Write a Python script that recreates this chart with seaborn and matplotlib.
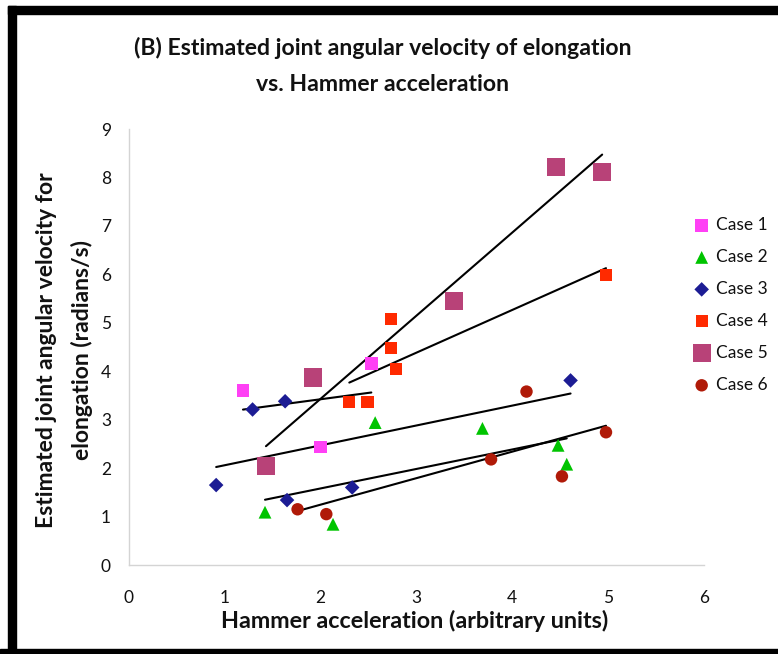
import matplotlib
matplotlib.use("Agg")
import matplotlib.pyplot as plt
import seaborn as sns
import pandas as pd
from matplotlib.patches import Rectangle

# ---- data ----
case1_x = [1.19, 2.00, 2.53]
case1_y = [3.60, 2.43, 4.16]
case2_x = [1.42, 2.13, 2.57, 3.69, 4.48, 4.57]
case2_y = [1.09, 0.84, 2.94, 2.82, 2.47, 2.08]
case3_x = [0.91, 1.29, 1.63, 1.65, 2.33, 4.61]
case3_y = [1.65, 3.21, 3.38, 1.34, 1.60, 3.81]
case4_x = [2.30, 2.49, 2.74, 2.74, 2.79, 4.98]
case4_y = [3.37, 3.37, 5.08, 4.47, 4.05, 5.99]
case5_x = [1.43, 1.92, 3.39, 4.46, 4.94]
case5_y = [2.04, 3.87, 5.45, 8.21, 8.11]
case6_x = [1.76, 2.06, 3.78, 4.15, 4.52, 4.98]
case6_y = [1.15, 1.05, 2.18, 3.58, 1.83, 2.74]

case_names = ["Case 1", "Case 2", "Case 3", "Case 4", "Case 5", "Case 6"]
xs = [case1_x, case2_x, case3_x, case4_x, case5_x, case6_x]
ys = [case1_y, case2_y, case3_y, case4_y, case5_y, case6_y]

x_ticks = [0, 1, 2, 3, 4, 5, 6]
y_ticks = [0, 1, 2, 3, 4, 5, 6, 7, 8, 9]

title = "(B) Estimated joint angular velocity of elongation\nvs. Hammer acceleration"
x_label = "Hammer acceleration (arbitrary units)"
y_label = "Estimated joint angular velocity for\nelongation (radians/s)"

# ---- styles ----
colors = ["#FF40F5", "#00C400", "#1C1C94", "#FF2A00", "#B84278", "#B01A08"]
markers = ["s", "^", "D", "s", "s", "o"]
sizes = [80, 85, 55, 75, 170, 80]

sns.set_theme(style="white")
plt.rcParams["font.family"] = ["Lato", "DejaVu Sans"]

fig = plt.figure(figsize=(7.78, 6.54), dpi=100)
fig.patch.set_facecolor("white")
ax = fig.add_axes([129 / 778, 1 - 565 / 654, (703.7 - 129) / 778, (565 - 129) / 654])
ax.set_facecolor("white")

for i, name in enumerate(case_names):
    df = pd.DataFrame({"x": xs[i], "y": ys[i]})
    sns.regplot(data=df, x="x", y="y", scatter=False, ci=None, truncate=True,
                color="black", line_kws=dict(lw=1.5, color="black", zorder=2), ax=ax)

for i, name in enumerate(case_names):
    df = pd.DataFrame({"x": xs[i], "y": ys[i]})
    sns.scatterplot(data=df, x="x", y="y", marker=markers[i], color=colors[i],
                    s=sizes[i], edgecolor="none", linewidth=0, label=name,
                    zorder=3, ax=ax)

ax.set_xlim(0, 6)
ax.set_ylim(0, 9)
ax.set_xticks(x_ticks)
ax.set_yticks(y_ticks)
ax.set_xticklabels([str(t) for t in x_ticks])
ax.set_yticklabels([str(t) for t in y_ticks])
for s in ["top", "right"]:
    ax.spines[s].set_visible(False)
for s in ["left", "bottom"]:
    ax.spines[s].set_color("#D4D4D4")
    ax.spines[s].set_linewidth(1.0)
ax.tick_params(axis="both", which="major", direction="out", length=5, width=1,
               color="#D4D4D4", labelsize=12.5, labelcolor="#111111")
ax.tick_params(axis="x", pad=13)
ax.tick_params(axis="y", pad=8)

ax.set_xlabel("")
ax.set_ylabel("")
fig.text(415 / 778, 1 - 621 / 654, x_label, ha="center", va="center",
         fontsize=16.8, fontweight="bold", color="#111111")
fig.text(64.5 / 778, 1 - 350 / 654, y_label, ha="center", va="center",
         rotation=90, fontsize=16.5, fontweight="bold", color="#111111",
         linespacing=1.72)
fig.text(383 / 778, 1 - 66 / 654, title, ha="center", va="center",
         fontsize=16.6, fontweight="bold", color="#111111", linespacing=1.85)

leg = ax.legend(loc="upper left", bbox_to_anchor=(693 / 778, 1 - 217 / 654),
                bbox_transform=fig.transFigure, frameon=False, fontsize=12.5,
                labelspacing=0.92, handletextpad=0.3, handlelength=1.0,
                borderaxespad=0, borderpad=0)
for t in leg.get_texts():
    t.set_color("#111111")

# black picture frame (left, top, bottom)
fig.patches.append(Rectangle((8 / 778, 0), 8 / 778, 1 - 6 / 654,
                             transform=fig.transFigure, color="black", zorder=10))
fig.patches.append(Rectangle((8 / 778, 1 - 14 / 654), 1, 8 / 654,
                             transform=fig.transFigure, color="black", zorder=10))
fig.patches.append(Rectangle((0, 0), 1, 5 / 654,
                             transform=fig.transFigure, color="black", zorder=10))

fig.savefig("out.png", dpi=100, facecolor="white")
